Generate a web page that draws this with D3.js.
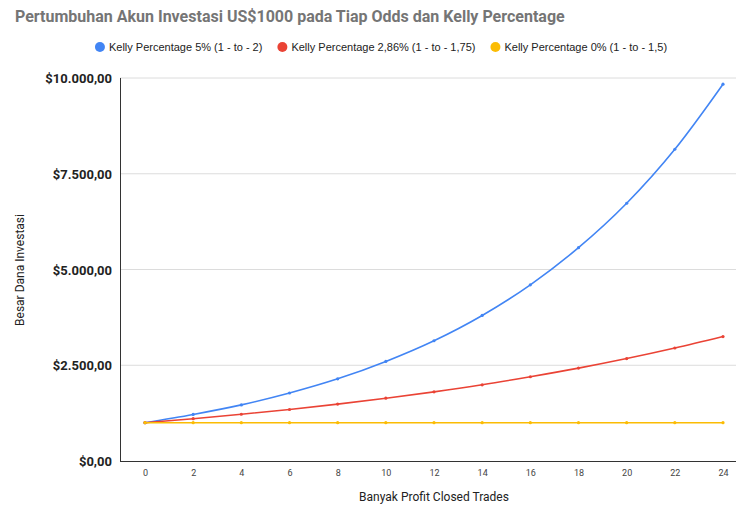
<!DOCTYPE html>
<html>
<head>
<meta charset="utf-8">
<script src="https://cdn.jsdelivr.net/npm/d3@7"></script>
<style>
  body { margin: 0; background: #fff; }
  svg { display: block; font-family: Roboto, "Liberation Sans", Arial, sans-serif; }
</style>
</head>
<body>
<div id="chart"></div>
<script>
// trades (x) and account balance for each strategy
var trades = [0, 2, 4, 6, 8, 10, 12, 14, 16, 18, 20, 22, 24];
var kelly5 = [1000, 1215, 1465, 1775, 2145, 2600, 3140, 3800, 4600, 5570, 6730, 8140, 9840];
var kelly286 = [1000, 1105, 1220, 1345, 1485, 1640, 1805, 1990, 2200, 2425, 2675, 2950, 3250];
var kelly0 = [1000, 1000, 1000, 1000, 1000, 1000, 1000, 1000, 1000, 1000, 1000, 1000, 1000];
var seriesNames = ["Kelly Percentage 5% (1 - to - 2)", "Kelly Percentage 2,86% (1 - to - 1,75)", "Kelly Percentage 0% (1 - to - 1,5)"];
var seriesColors = ["#4285f4", "#ea4335", "#fbbc04"];
var yTicks = [0, 2500, 5000, 7500, 10000];

var W = 736, H = 507;
var svg = d3.select("#chart").append("svg").attr("width", W).attr("height", H);

var x = d3.scaleLinear().domain([0, 24]).range([145, 723]);
var y = d3.scaleLinear().domain([0, 10000]).range([461, 78]);
var plotLeft = 120, plotRight = 736;

// title
svg.append("text")
  .attr("x", 15).attr("y", 22)
  .style("font-size", "16px").style("font-weight", "bold")
  .style("fill", "#757575")
  .text("Pertumbuhan Akun Investasi US$1000 pada Tiap Odds dan Kelly Percentage");

// legend, centred
var legend = svg.append("g");
var lx = 0;
seriesNames.forEach(function (name, i) {
  var g = legend.append("g").attr("transform", "translate(" + lx + ",0)");
  g.append("circle").attr("cx", 5).attr("cy", 0).attr("r", 5).style("fill", seriesColors[i]);
  var t = g.append("text").attr("x", 14).attr("y", 4)
    .style("font-size", "11px").style("fill", "#222")
    .style("font-family", "'Liberation Sans', Arial, sans-serif")
    .text(name);
  lx += 14 + t.node().getComputedTextLength() + 15;
});
legend.attr("transform", "translate(" + (381 - (lx - 15) / 2) + ",47)");

// gridlines
svg.append("g").selectAll("line")
  .data(yTicks.slice(1))
  .enter().append("line")
  .attr("x1", plotLeft).attr("x2", plotRight)
  .attr("y1", function (d) { return y(d); })
  .attr("y2", function (d) { return y(d); })
  .style("stroke", "#dcdcdc").style("stroke-width", 1);

// y tick labels
svg.append("g").selectAll("text")
  .data(yTicks)
  .enter().append("text")
  .attr("x", 112)
  .attr("y", function (d) { return y(d) + 5; })
  .attr("text-anchor", "end")
  .style("font-size", "13px").style("font-weight", "bold").style("fill", "#222")
  .text(function (d) { return "$" + d3.format(",.2f")(d).replace(/,/g, "#").replace(".", ",").replace(/#/g, "."); });

// axes lines
svg.append("line").attr("x1", plotLeft + 0.5).attr("x2", plotLeft + 0.5)
  .attr("y1", y(10000)).attr("y2", y(0))
  .style("stroke", "#333").style("stroke-width", 1);
svg.append("line").attr("x1", plotLeft).attr("x2", plotRight)
  .attr("y1", y(0) + 0.5).attr("y2", y(0) + 0.5)
  .style("stroke", "#333").style("stroke-width", 1);

// x tick labels
var xAxis = d3.axisBottom(x).tickValues(trades).tickSize(0).tickPadding(9);
var gx = svg.append("g").attr("transform", "translate(0," + y(0) + ")").call(xAxis);
gx.select(".domain").remove();
gx.selectAll("text").style("font-size", "9px").style("fill", "#444")
  .style("font-family", "Roboto, 'Liberation Sans', Arial, sans-serif");

// axis titles
svg.append("text")
  .attr("x", 434).attr("y", 501)
  .attr("text-anchor", "middle")
  .style("font-size", "12px").style("fill", "#222")
  .text("Banyak Profit Closed Trades");
svg.append("text")
  .attr("transform", "translate(24,270) rotate(-90)")
  .attr("text-anchor", "middle")
  .style("font-size", "12px").style("fill", "#222")
  .text("Besar Dana Investasi");

// series lines, last drawn on top
var line = d3.line()
  .x(function (d, i) { return x(trades[i]); })
  .y(function (d) { return y(d); })
  .curve(d3.curveMonotoneX);

[kelly5, kelly286, kelly0].forEach(function (vals, i) {
  svg.append("path")
    .datum(vals)
    .attr("d", line)
    .style("fill", "none")
    .style("stroke", seriesColors[i])
    .style("stroke-width", 1.6);
  svg.append("g").selectAll("circle")
    .data(vals)
    .enter().append("circle")
    .attr("cx", function (d, j) { return x(trades[j]); })
    .attr("cy", function (d) { return y(d); })
    .attr("r", 1.6)
    .style("fill", seriesColors[i]);
});
</script>
</body>
</html>
